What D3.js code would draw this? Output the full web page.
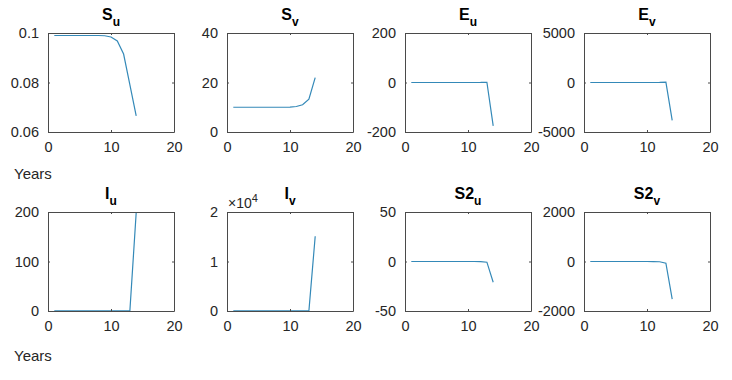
<!DOCTYPE html>
<html>
<head>
<meta charset="utf-8">
<script src="https://cdn.jsdelivr.net/npm/d3@7"></script>
<style>
  html, body { margin: 0; padding: 0; background: #fff; }
  svg { display: block; }
  text { font-family: "Liberation Sans", Arial, sans-serif; }
</style>
</head>
<body>
<svg id="chart" width="732" height="380"></svg>
<script>
// ---- data ----
const years = [1, 2, 3, 4, 5, 6, 7, 8, 9, 10, 11, 12, 13, 14];
const Su  = [0.0990, 0.0990, 0.0990, 0.0990, 0.0990, 0.0990, 0.0990, 0.0990, 0.0989, 0.0984, 0.0968, 0.0915, 0.0790, 0.0665];
const Sv  = [10, 10, 10, 10, 10, 10, 10, 10, 10, 10.05, 10.3, 11, 13.3, 22];
const Eu  = [0, 0, 0, 0, 0, 0, 0, 0, 0, 0, 0, 0.2, 1, -175];
const Ev  = [0, 0, 0, 0, 0, 0, 0, 0, 0, 0, 0, 5, 30, -3830];
const Iu  = [0.3, 0.3, 0.3, 0.3, 0.3, 0.3, 0.3, 0.3, 0.3, 0.3, 0.4, 0.5, 1, 199];
const Iv  = [10, 10, 10, 10, 10, 10, 10, 10, 10, 10, 12, 15, 20, 15100];
const S2u = [0, 0, 0, 0, 0, 0, 0, 0, 0, 0, 0, -0.1, -0.7, -21];
const S2v = [0, 0, 0, 0, 0, 0, 0, 0, 0, 0, -2, -10, -67, -1520];

const xTicks = [0, 10, 20];
const yTicksSu = [0.06, 0.08, 0.1];
const yTicksSv = [0, 20, 40];
const yTicksEu = [-200, 0, 200];
const yTicksEv = [-5000, 0, 5000];
const yTicksIu = [0, 100, 200];
const yTicksIv = [0, 1, 2];          // ×10^4
const yTicksS2u = [-50, 0, 50];
const yTicksS2v = [-2000, 0, 2000];

const panels = [
  { main: "S",  sub: "u", values: Su,  yTicks: yTicksSu,  scale: 1 },
  { main: "S",  sub: "v", values: Sv,  yTicks: yTicksSv,  scale: 1 },
  { main: "E",  sub: "u", values: Eu,  yTicks: yTicksEu,  scale: 1 },
  { main: "E",  sub: "v", values: Ev,  yTicks: yTicksEv,  scale: 1 },
  { main: "I",  sub: "u", values: Iu,  yTicks: yTicksIu,  scale: 1 },
  { main: "I",  sub: "v", values: Iv,  yTicks: yTicksIv,  scale: 1e4, exp: "4" },
  { main: "S2", sub: "u", values: S2u, yTicks: yTicksS2u, scale: 1 },
  { main: "S2", sub: "v", values: S2v, yTicks: yTicksS2v, scale: 1 }
];

// ---- layout ----
const colLeft = [48, 227, 405, 584];
const rowTop = [33, 212];
const W = 126, H = 99;
const axisColor = "#4a4a4a";
const textColor = "#262626";
const lineColor = "#3489b8";

const svg = d3.select("#chart");

panels.forEach((p, i) => {
  const col = i % 4, row = Math.floor(i / 4);
  const g = svg.append("g").attr("transform", `translate(${colLeft[col]},${rowTop[row]})`);

  const x = d3.scaleLinear().domain([0, 20]).range([0, W]);
  const yDom = d3.extent(p.yTicks).map(v => v * p.scale);
  const y = d3.scaleLinear().domain(yDom).range([H, 0]);

  const clipId = "clip" + i;
  g.append("clipPath").attr("id", clipId).append("rect").attr("width", W).attr("height", H);

  const data = years.map((yr, k) => [yr, p.values[k]]);
  g.append("path")
    .datum(data)
    .attr("clip-path", `url(#${clipId})`)
    .attr("fill", "none")
    .attr("stroke", lineColor)
    .attr("stroke-width", 1.2)
    .attr("d", d3.line().x(d => x(d[0])).y(d => y(d[1])));

  const styleAxis = sel => {
    sel.select(".domain").attr("stroke", axisColor).attr("stroke-width", 1);
    sel.selectAll(".tick line").attr("stroke", axisColor);
    sel.selectAll("text").attr("fill", textColor).style("font-size", "14.5px")
      .style("font-family", '"Liberation Sans", Arial, sans-serif');
  };

  const yVals = p.yTicks.map(v => v * p.scale);

  g.append("g").attr("transform", `translate(0,${H})`)
    .call(d3.axisBottom(x).tickValues(xTicks).tickSizeInner(-2).tickSizeOuter(0).tickPadding(10).tickFormat(d3.format("d")))
    .call(styleAxis);
  g.append("g")
    .call(d3.axisTop(x).tickValues(xTicks).tickSizeInner(-2).tickSizeOuter(0).tickFormat(""))
    .call(styleAxis);
  g.append("g")
    .call(d3.axisLeft(y).tickValues(yVals).tickSizeInner(-2).tickSizeOuter(0).tickPadding(9)
      .tickFormat(d => String(+(d / p.scale).toPrecision(6))))
    .call(styleAxis);
  g.append("g").attr("transform", `translate(${W},0)`)
    .call(d3.axisRight(y).tickValues(yVals).tickSizeInner(-2).tickSizeOuter(0).tickFormat(""))
    .call(styleAxis);

  // title
  const t = g.append("text")
    .attr("x", W / 2).attr("y", -13)
    .attr("text-anchor", "middle")
    .attr("fill", "#000")
    .style("font-weight", "bold");
  t.append("tspan").style("font-size", "16px").text(p.main);
  t.append("tspan").style("font-size", "12px").attr("dy", 6).text(p.sub);

  if (p.exp) {
    const e = g.append("text").attr("x", 1).attr("y", -4).attr("fill", textColor);
    e.append("tspan").style("font-size", "14px").text("\u00D710");
    e.append("tspan").style("font-size", "11px").attr("dy", -6).text(p.exp);
  }
});

[179, 361].forEach(yy => {
  svg.append("text").attr("x", 14).attr("y", yy)
    .attr("fill", textColor).style("font-size", "15px").text("Years");
});
</script>
</body>
</html>
